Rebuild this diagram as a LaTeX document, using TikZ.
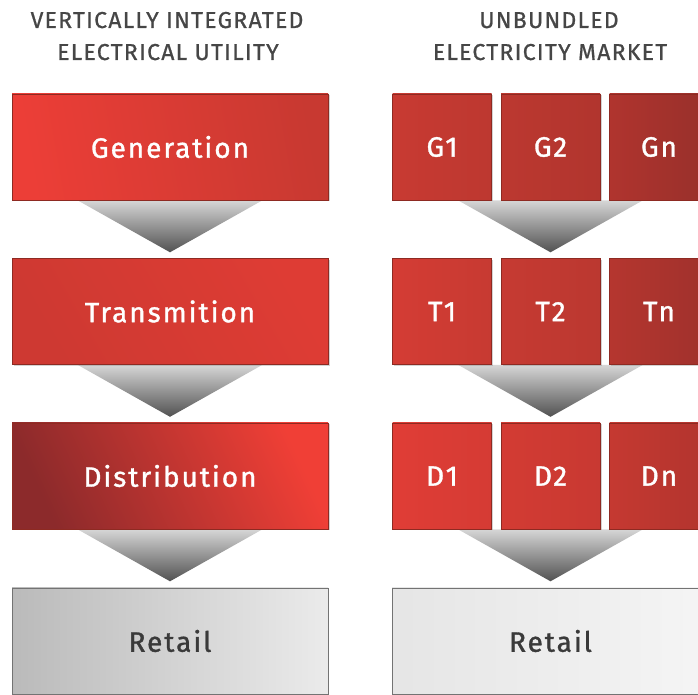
\documentclass[tikz,border=0pt]{standalone}
\usepackage{fontspec}
\setmainfont{Fira Sans}
\newfontfamily\titlefont[LetterSpace=5.5,FakeBold=0.8]{Fira Sans}
\newfontfamily\boxfont[LetterSpace=7,FakeBold=1.2]{Fira Sans}
\usetikzlibrary{calc,shadows,backgrounds}
\definecolor{titlegray}{HTML}{464646}
\definecolor{retailtext}{HTML}{3A3A3A}
\definecolor{redborder}{HTML}{8E2A22}
\tikzset{
  x=1pt,y=1pt,
  titletext/.style={font=\titlefont\fontsize{23}{23}\selectfont, text=titlegray, anchor=base, inner sep=0pt},
  redbox/.style={draw=redborder, line width=0.6pt, text=white,
     font=\boxfont\fontsize{28}{28}\selectfont, minimum height=106pt, inner sep=0pt,
     drop shadow={shadow xshift=1.5pt, shadow yshift=-1.5pt, opacity=0.35}},
  widebox/.style={redbox, minimum width=316pt},
  smallbox/.style={redbox, minimum width=99pt},
  retailbox/.style={draw=black!55, line width=0.8pt, text=retailtext,
     font=\boxfont\fontsize{28}{28}\selectfont, minimum height=106pt, inner sep=0pt},
  chevron/.style={top color=black!16, bottom color=black!68, draw=none}
}
\begin{document}
\begin{tikzpicture}
\useasboundingbox (0,0) rectangle (698,695);
\clip (0,0) rectangle (698,695);

% titles
\node[titletext] (t1) at (167,667) {VERTICALLY INTEGRATED};
\node[titletext] (t2) at (168,635) {ELECTRICAL UTILITY};
\node[titletext] (t3) at (549,667) {UNBUNDLED};
\node[titletext] (t4) at (550,635) {ELECTRICITY MARKET};

% left column
\node[widebox, left color={rgb,255:red,236;green,62;blue,55}, right color={rgb,255:red,200;green,57;blue,49}, shading angle=100] (gen) at (170,548) {Generation};
\node[widebox, left color={rgb,255:red,206;green,57;blue,50}, middle color={rgb,255:red,239;green,63;blue,55}, right color={rgb,255:red,222;green,60;blue,52}, shading angle=120] (tra) at (170,383.5) {Transmition};
\node[widebox, left color={rgb,255:red,140;green,42;blue,43}, middle color={rgb,255:red,212;green,58;blue,51}, right color={rgb,255:red,240;green,63;blue,54}, shading angle=115] (dis) at (170,219) {Distribution};
\node[retailbox, minimum width=316pt, left color=black!27, middle color=white, right color=black!8] (retl) at (170,54) {Retail};

% right column
\node[smallbox, left color={rgb,255:red,200;green,58;blue,50}, right color={rgb,255:red,189;green,56;blue,48}] (g1) at (442,548) {G1};
\node[smallbox, left color={rgb,255:red,188;green,56;blue,48}, right color={rgb,255:red,177;green,53;blue,46}] (g2) at (550.5,548) {G2};
\node[smallbox, left color={rgb,255:red,176;green,52;blue,46}, right color={rgb,255:red,152;green,48;blue,43}] (gn) at (659,548) {Gn};

\node[smallbox, left color={rgb,255:red,212;green,60;blue,52}, right color={rgb,255:red,199;green,58;blue,50}] (t1b) at (442,383.5) {T1};
\node[smallbox, left color={rgb,255:red,198;green,58;blue,50}, right color={rgb,255:red,187;green,56;blue,48}] (t2b) at (550.5,383.5) {T2};
\node[smallbox, left color={rgb,255:red,181;green,54;blue,47}, right color={rgb,255:red,160;green,49;blue,44}] (tnb) at (659,383.5) {Tn};

\node[smallbox, left color={rgb,255:red,224;green,61;blue,54}, right color={rgb,255:red,213;green,59;blue,52}] (d1) at (442,219) {D1};
\node[smallbox, left color={rgb,255:red,211;green,59;blue,51}, right color={rgb,255:red,200;green,57;blue,50}] (d2) at (550.5,219) {D2};
\node[smallbox, left color={rgb,255:red,197;green,57;blue,49}, right color={rgb,255:red,178;green,52;blue,46}] (dn) at (659,219) {Dn};

\node[retailbox, minimum width=317pt, left color=black!10, right color=black!4] (retr) at (550.5,54) {Retail};

% chevrons
\begin{scope}[on background layer]
\foreach \b in {gen,tra,dis,g2,t2b,d2}{
  \path[chevron] ($(\b.south)+(-92.5,0)$) -- ($(\b.south)+(92.5,0)$) -- ($(\b.south)+(0,-52)$) -- cycle;
}
\end{scope}
\end{tikzpicture}
\end{document}
